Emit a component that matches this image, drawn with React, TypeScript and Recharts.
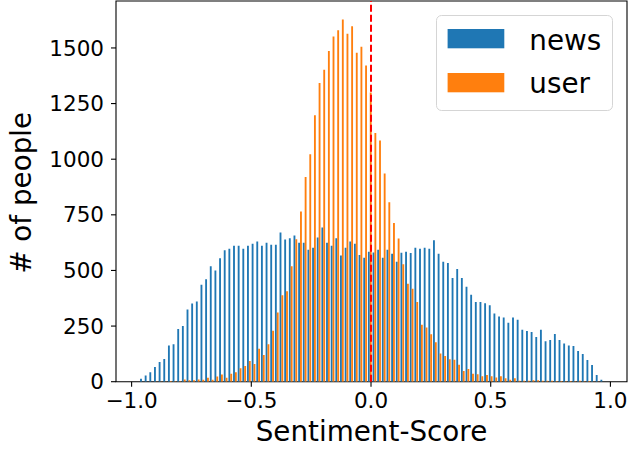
import React from 'react';
import { BarChart, Bar, XAxis, YAxis, ReferenceLine, ReferenceArea, Legend } from 'recharts';

// Histogram bins (100 bins); bin centres on the Sentiment-Score scale
const BIN_FIRST_CENTER = -0.9569;
const BIN_WIDTH = 0.019424;

// counts per bin
const NEWS = [
  13, 28, 42, 66, 88, 102, 163, 168, 237, 250,
  325, 352, 361, 436, 460, 519, 500, 555, 591, 597,
  611, 611, 598, 611, 620, 630, 611, 625, 616, 616,
  671, 639, 645, 657, 624, 624, 593, 602, 648, 693,
  624, 611, 645, 567, 602, 630, 620, 569, 557, 584,
  581, 593, 557, 593, 575, 539, 579, 584, 578, 602,
  597, 602, 597, 636, 575, 539, 533, 466, 506, 466,
  427, 391, 358, 358, 353, 344, 307, 293, 288, 265,
  288, 278, 233, 228, 223, 201, 233, 182, 187, 214,
  187, 172, 163, 160, 138, 125, 97, 75, 30, 9,
];
const USER = [
  0, 0, 0, 1, 1, 1, 3, 2, 2, 10,
  7, 6, 10, 9, 18, 9, 23, 32, 18, 36,
  42, 61, 71, 93, 79, 148, 120, 168, 229, 311,
  389, 407, 519, 640, 765, 920, 1022, 1198, 1342, 1402,
  1486, 1552, 1579, 1628, 1564, 1597, 1478, 1505, 1421, 1300,
  1118, 1084, 936, 807, 713, 644, 528, 440, 418, 358,
  256, 244, 213, 177, 127, 115, 101, 99, 76, 48,
  57, 36, 34, 25, 30, 25, 19, 24, 15, 9,
  15, 4, 4, 4, 7, 7, 4, 4, 4, 3,
  3, 2, 3, 2, 4, 2, 3, 1, 1, 0,
];

const X_TICKS = [-1, -0.5, 0, 0.5, 1];
const Y_TICKS = [0, 250, 500, 750, 1000, 1250, 1500];
const X_DOMAIN: [number, number] = [-1.0652, 1.0693];
const Y_DOMAIN: [number, number] = [0, 1711];

const SERIES = [
  { key: 'news', label: 'news', color: '#1f77b4' },
  { key: 'user', label: 'user', color: '#ff7f0e' },
];

const data = NEWS.map((n, i) => ({
  x: +(BIN_FIRST_CENTER + i * BIN_WIDTH).toFixed(4),
  news: n,
  user: USER[i],
}));

const FONT = '"DejaVu Sans", sans-serif';

const fmt = (v: number) => (v < 0 ? '\u2212' : '') + Math.abs(v).toFixed(1);

const LegendBox = () => (
  <svg width={178} height={97} style={{ display: 'block' }}>
    <rect x={0.5} y={0.5} width={176} height={95} rx={5} ry={5}
      fill="rgba(255,255,255,0.8)" stroke="#d5d5d5" strokeWidth={1} />
    {SERIES.map((s, i) => (
      <g key={s.key}>
        <rect x={11.6} y={14 + i * 44} width={56.7} height={19.3} fill={s.color} />
        <text x={93.3} y={35 + i * 43} fontFamily={FONT} fontSize={27.8} fill="#000">{s.label}</text>
      </g>
    ))}
  </svg>
);

export default function App() {
  return (
    <div style={{ position: 'absolute', left: 0, top: 0, background: '#fff' }}>
      <BarChart
        width={628}
        height={450}
        data={data}
        margin={{ top: 1, right: 1, left: 0, bottom: 0 }}
        barGap={0}
      >
        <XAxis xAxisId="cat" dataKey="x" type="category" hide orientation="top" height={0}
          padding={{ left: 24.07, right: 21.93 }} />
        <XAxis
          xAxisId="num"
          dataKey="x"
          type="number"
          domain={X_DOMAIN}
          ticks={X_TICKS}
          allowDataOverflow
          height={68.3}
          axisLine={false}
          tickSize={5}
          tickMargin={6}
          tickLine={{ stroke: '#000', strokeWidth: 1.1 }}
          tick={{ fill: '#000', fontSize: 21.5, fontFamily: FONT }}
          tickFormatter={fmt}
          label={(p: any) => {
            const vb = p.viewBox || {};
            return (
              <text x={vb.x + vb.width / 2} y={vb.y + 59.3} textAnchor="middle"
                fontFamily={FONT} fontSize={27.8} fill="#000">Sentiment-Score</text>
            );
          }}
        />
        <YAxis
          type="number"
          domain={Y_DOMAIN}
          ticks={Y_TICKS}
          allowDataOverflow
          width={116}
          axisLine={false}
          tickSize={5}
          tickMargin={7}
          tickLine={{ stroke: '#000', strokeWidth: 1.1 }}
          tick={{ fill: '#000', fontSize: 21.5, fontFamily: FONT }}
          label={(p: any) => {
            const vb = p.viewBox || {};
            const cy = vb.y + vb.height / 2 + 1.5;
            return (
              <text x={31.5} y={cy} transform={`rotate(-90 31.5 ${cy})`} textAnchor="middle"
                fontFamily={FONT} fontSize={27.8} fill="#000"># of people</text>
            );
          }}
        />
        {SERIES.map((s) => (
          <Bar key={s.key} xAxisId="cat" dataKey={s.key} name={s.label} fill={s.color}
            barSize={1.86} isAnimationActive={false} />
        ))}
        <ReferenceLine xAxisId="num" x={0} stroke="#ff0000" strokeWidth={2} strokeDasharray="7 3" />
        <ReferenceArea xAxisId="num" x1={X_DOMAIN[0]} x2={X_DOMAIN[1]} y1={Y_DOMAIN[0]} y2={Y_DOMAIN[1]}
          fill="none" fillOpacity={0} stroke="#000" strokeWidth={1.1} ifOverflow="visible" />
        <Legend
          layout="horizontal"
          verticalAlign="middle"
          align="center"
          content={() => <LegendBox />}
          wrapperStyle={{ left: 436.2, top: 14.5, width: 178, height: 97, margin: 0, padding: 0 }}
        />
      </BarChart>
    </div>
  );
}
